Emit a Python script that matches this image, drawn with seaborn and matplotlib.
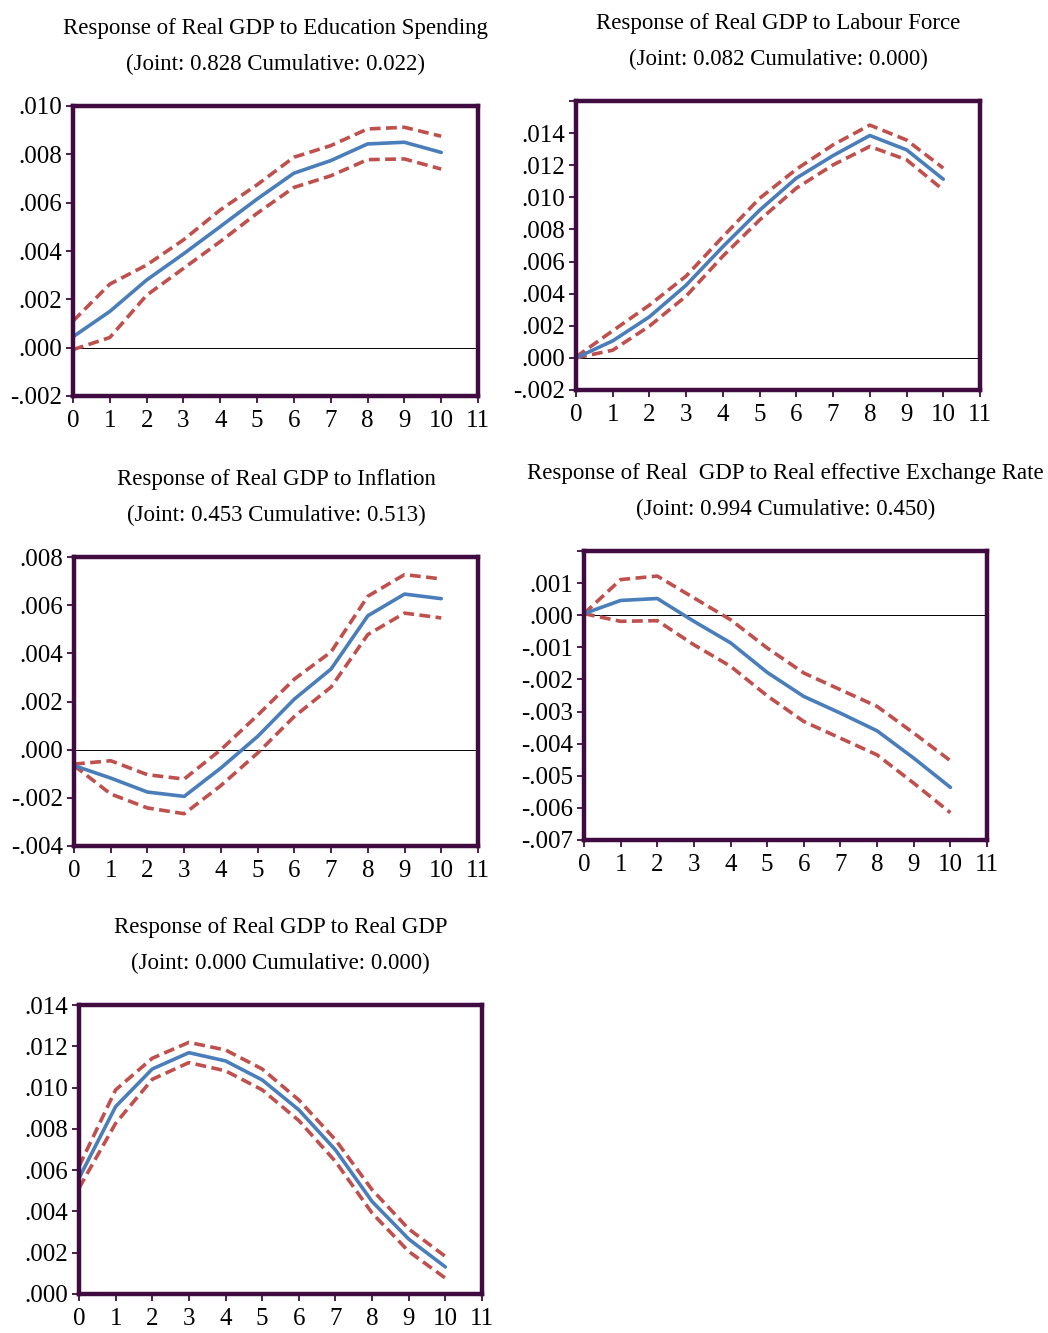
import numpy as np
import pandas as pd
import matplotlib
matplotlib.use("Agg")
import matplotlib.pyplot as plt
import seaborn as sns
from matplotlib.ticker import FixedLocator, FuncFormatter

# %% Data (periods 0-10)
periods = list(range(11))

edu_resp = [0.00045, 0.0015, 0.0028, 0.00388, 0.00501, 0.00615, 0.00722, 0.00774, 0.00843, 0.0085, 0.00808]
edu_upper = [0.0011, 0.00263, 0.00342, 0.00446, 0.0057, 0.00674, 0.00788, 0.00836, 0.00905, 0.00912, 0.00875]
edu_lower = [-0.00008, 0.00042, 0.00217, 0.00328, 0.00439, 0.00556, 0.00663, 0.00711, 0.00778, 0.00781, 0.00739]

lab_resp = [0.0, 0.00106, 0.00256, 0.00453, 0.00693, 0.0092, 0.0112, 0.0126, 0.01385, 0.01296, 0.01113]
lab_upper = [0.00006, 0.00169, 0.00329, 0.0051, 0.00755, 0.00994, 0.01175, 0.01327, 0.0145, 0.01357, 0.01182]
lab_lower = [0.0, 0.00048, 0.00198, 0.00385, 0.00634, 0.00859, 0.01057, 0.01202, 0.01317, 0.01234, 0.01046]

inf_resp = [-0.00066, -0.00118, -0.00176, -0.00194, -0.00076, 0.00055, 0.0021, 0.00335, 0.00556, 0.00646, 0.00627]
inf_upper = [-0.0006, -0.00046, -0.00104, -0.00122, 0.0, 0.00143, 0.00293, 0.00406, 0.00637, 0.00727, 0.00709]
inf_lower = [-0.00066, -0.00184, -0.00242, -0.00266, -0.00149, -0.00014, 0.00138, 0.0026, 0.00478, 0.00567, 0.00547]

reer_resp = [0.00005, 0.00046, 0.00052, -0.00019, -0.00086, -0.00178, -0.00253, -0.00305, -0.0036, -0.00445, -0.00536]
reer_upper = [0.00005, 0.00111, 0.00122, 0.00054, -0.00014, -0.00102, -0.0018, -0.00232, -0.00284, -0.00367, -0.00453]
reer_lower = [0.00005, -0.00019, -0.00017, -0.00092, -0.00159, -0.00251, -0.00331, -0.00383, -0.00435, -0.00523, -0.00615]

gdp_resp = [0.00561, 0.00908, 0.0109, 0.01169, 0.01129, 0.01037, 0.00892, 0.00698, 0.00448, 0.00266, 0.00131]
gdp_upper = [0.00618, 0.00989, 0.01142, 0.01219, 0.01182, 0.0109, 0.0094, 0.00747, 0.00505, 0.00315, 0.00182]
gdp_lower = [0.00513, 0.00827, 0.0104, 0.01121, 0.01081, 0.00989, 0.0084, 0.00642, 0.00392, 0.00206, 0.00077]

titles = [
    "Response of Real GDP to Education Spending\n(Joint: 0.828 Cumulative: 0.022)",
    "Response of Real GDP to Labour Force\n(Joint: 0.082 Cumulative: 0.000)",
    "Response of Real GDP to Inflation\n(Joint: 0.453 Cumulative: 0.513)",
    "Response of Real  GDP to Real effective Exchange Rate\n(Joint: 0.994 Cumulative: 0.450)",
    "Response of Real GDP to Real GDP\n(Joint: 0.000 Cumulative: 0.000)",
]
series = [
    (edu_resp, edu_upper, edu_lower),
    (lab_resp, lab_upper, lab_lower),
    (inf_resp, inf_upper, inf_lower),
    (reer_resp, reer_upper, reer_lower),
    (gdp_resp, gdp_upper, gdp_lower),
]
y_limits = [(-0.002, 0.010), (-0.002, 0.016), (-0.004, 0.008), (-0.007, 0.002), (0.0, 0.014)]
y_steps = [0.002, 0.002, 0.002, 0.001, 0.002]
label_top = [True, False, True, False, True]

# %% Style
sns.set_style("white")
plt.rcParams['font.family'] = ['Liberation Serif', 'DejaVu Serif']
plt.rcParams['text.color'] = 'black'
plt.rcParams['axes.labelcolor'] = 'black'
frame_col = "#3f0b40"
blue = "#4a7ebb"
red = "#c0504d"

fig = plt.figure(figsize=(10.48, 13.33), dpi=100)
# axes boxes in pixels (left, top, right, bottom)
boxes = [(73, 106, 478, 396), (576, 101, 980, 390), (74, 557, 478, 846),
         (584, 551, 987, 840), (79, 1005, 482, 1294)]
W, H = 1048, 1333


def fmt_tick(v, top, show_top):
    if abs(v - top) < 1e-9 and not show_top:
        return ""
    s = f"{v:.3f}"
    if s.startswith("-0."):
        s = "-" + s[2:]
    elif s.startswith("0."):
        s = s[1:]
    return s


for i, (box, title) in enumerate(zip(boxes, titles)):
    l, t, r, b = box
    ax = fig.add_axes([l / W, 1 - b / H, (r - l) / W, (b - t) / H])
    resp, up, lo = series[i]
    df = pd.DataFrame({"period": periods, "resp": resp, "upper": up, "lower": lo})
    sns.lineplot(data=df, x="period", y="upper", color=red, lw=2.6, ax=ax)
    sns.lineplot(data=df, x="period", y="lower", color=red, lw=2.6, ax=ax)
    sns.lineplot(data=df, x="period", y="resp", color=blue, lw=2.6, ax=ax)
    for ln in ax.lines[:2]:
        ln.set_dashes([3.0, 1.5])
    ax.axhline(0, color="black", lw=0.7, zorder=1)

    lo_y, hi_y = y_limits[i]
    ax.set_xlim(0, 11)
    ax.set_ylim(lo_y, hi_y)
    ticks = np.round(np.arange(lo_y, hi_y + y_steps[i] / 2, y_steps[i]), 4)
    ax.yaxis.set_major_locator(FixedLocator(ticks))
    ax.yaxis.set_major_formatter(FuncFormatter(
        lambda v, p, top=hi_y, s=label_top[i]: fmt_tick(v, top, s)))
    ax.xaxis.set_major_locator(FixedLocator(range(12)))
    ax.set_xlabel("")
    ax.set_ylabel("")
    for sp in ax.spines.values():
        sp.set_color(frame_col)
        sp.set_linewidth(3.2)
        sp.set_visible(True)
    ax.tick_params(axis="both", direction="out", length=5, width=1.3, color=frame_col,
                   labelsize=18, labelcolor="black", pad=3, left=True, bottom=True)
    ax.tick_params(axis="x", pad=5)
    ax.set_title(title, fontsize=16.5, linespacing=1.9, pad=26, color="black")
    ax.grid(False)

fig.savefig("out.png", dpi=100)
